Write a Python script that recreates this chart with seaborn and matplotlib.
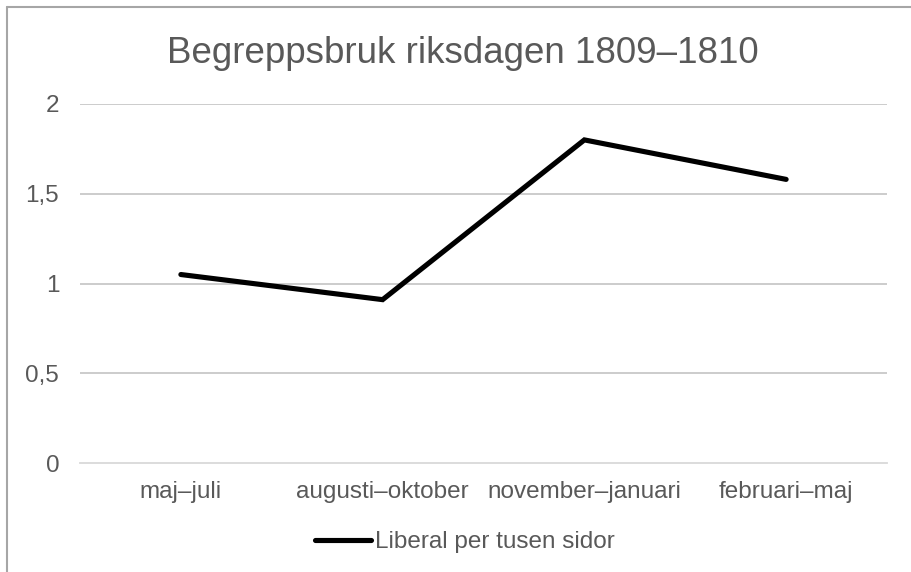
"""Begreppsbruk i riksdagen 1809-1810: linjediagram i Excel-stil."""
import matplotlib
matplotlib.use('Agg')
import matplotlib.pyplot as plt
import matplotlib.ticker as mticker
from matplotlib.lines import Line2D
import pandas as pd
import seaborn as sns

periods = ['maj–juli', 'augusti–oktober', 'november–januari', 'februari–maj']
liberal = [1.05, 0.91, 1.80, 1.58]
series_name = 'Liberal per tusen sidor'
title = 'Begreppsbruk riksdagen 1809–1810'
y_ticks = [0, 0.5, 1, 1.5, 2]

TEXT = '#595959'
GRID = '#bfbfbf'
AXIS = '#d9d9d9'
FRAME = '#a6a6a6'

sns.set_style('white')
plt.rcParams['font.family'] = ['Liberation Sans', 'DejaVu Sans']

df = pd.DataFrame({'period': periods, 'value': liberal})

fig = plt.figure(figsize=(9.11, 5.72), dpi=100)
ax = fig.add_axes([80 / 911, 1 - 463 / 572, (887 - 80) / 911, (463 - 104) / 572])

sns.lineplot(data=df, x='period', y='value', ax=ax, color='black',
             linewidth=3.7, solid_capstyle='round', solid_joinstyle='miter',
             label=series_name, legend=False, zorder=3)

ax.set_xlim(-0.5, len(periods) - 0.5)
ax.set_ylim(0, 2)
ax.set_yticks(y_ticks)
ax.yaxis.set_major_formatter(mticker.FuncFormatter(lambda v, p: f'{v:g}'.replace('.', ',')))
ax.set_xlabel('')
ax.set_ylabel('')

for v in y_ticks[1:]:
    ax.axhline(v, color=GRID, linewidth=1.1, zorder=1)

for side in ['top', 'right', 'left']:
    ax.spines[side].set_visible(False)
ax.spines['bottom'].set_color(AXIS)
ax.spines['bottom'].set_linewidth(1.3)

ax.xaxis.set_minor_locator(mticker.FixedLocator([i - 0.5 for i in range(len(periods) + 1)]))
ax.tick_params(axis='x', which='minor', length=7, width=1.3, color=AXIS, direction='out')
ax.tick_params(axis='x', which='major', length=0, pad=13, labelsize=17.5, labelcolor=TEXT)
ax.tick_params(axis='y', length=0, pad=15, labelsize=17.5, labelcolor=TEXT)

fig.text(463 / 911, 1 - 63 / 572, title, ha='center', va='baseline',
         fontsize=26.5, color=TEXT)

handle = Line2D([], [], color='black', linewidth=3.7, solid_capstyle='round')
fig.legend([handle], [series_name], loc='center', bbox_to_anchor=(465 / 911, 1 - 542 / 572),
           frameon=False, fontsize=17.5, labelcolor=TEXT, handlelength=2.3,
           handletextpad=0.15, borderpad=0)

# ram runt diagramytan (bara övre och vänstra kanten syns)
fig.add_artist(Line2D([7 / 911, 1], [1 - 7 / 572, 1 - 7 / 572], color=FRAME, linewidth=1.5))
fig.add_artist(Line2D([7 / 911, 7 / 911], [0, 1 - 7 / 572], color=FRAME, linewidth=1.5))

fig.savefig('out.png', dpi=100, facecolor='white')
